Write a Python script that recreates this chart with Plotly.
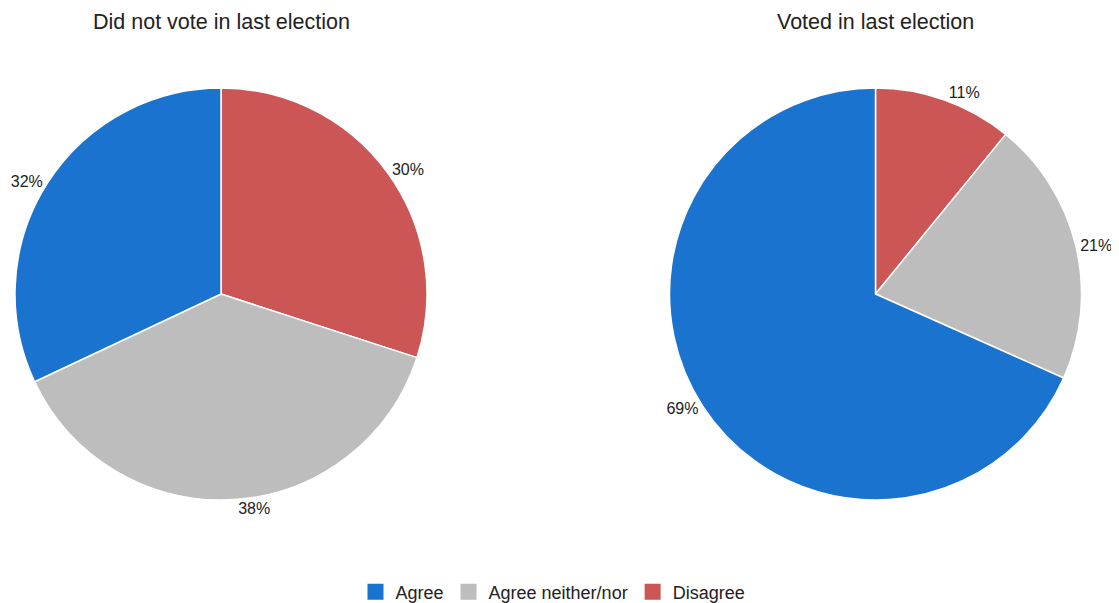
import plotly.graph_objects as go

categories = ["Agree", "Agree neither/nor", "Disagree"]
did_not_vote = [32, 38, 30]
voted = [69, 21, 11]
titles = ["Did not vote in last election", "Voted in last election"]
colors = ["#1A73CE", "#BDBDBD", "#CC5555"]

OFF = 8                      # page body margin around the figure
W, H = 1119 - OFF, 603 - OFF
font = "Liberation Sans, Arial, sans-serif"

def px(x):
    return (x - OFF) / W

def py(y):
    return 1 - (y - OFF) / H

def dom(cx, cy, r):
    return dict(x=[max(0, px(cx - r)), min(1, px(cx + r))],
                y=[max(0, py(cy + r)), min(1, py(cy - r))])

fig = go.Figure()
for vals, cx in [(did_not_vote, 221), (voted, 875.5)]:
    fig.add_trace(go.Pie(
        labels=categories[::-1], values=vals[::-1], sort=False, direction="clockwise",
        rotation=0, marker=dict(colors=colors[::-1], line=dict(color="white", width=1.5)),
        texttemplate="%{value}%", textposition="outside",
        textfont=dict(size=16, color="#222222", family=font),
        domain=dom(cx, 294, 206), showlegend=False, hoverinfo="label+percent",
    ))

for name, col in zip(categories, colors):
    fig.add_trace(go.Scatter(x=[None], y=[None], mode="markers", name=name,
                             marker=dict(symbol="square", size=22, color=col),
                             showlegend=True, hoverinfo="skip"))

annotations = [
    dict(text=titles[0], x=px(221), y=py(22), xref="paper", yref="paper",
         xanchor="center", yanchor="middle",
         showarrow=False, font=dict(size=21.5, color="#222222", family=font)),
    dict(text=titles[1], x=px(875.5), y=py(22), xref="paper", yref="paper",
         xanchor="center", yanchor="middle",
         showarrow=False, font=dict(size=21.5, color="#222222", family=font)),
]

fig.update_layout(
    width=W, height=H, margin=dict(l=0, r=0, t=0, b=0, autoexpand=False),
    paper_bgcolor="white", plot_bgcolor="white",
    annotations=annotations,
    xaxis=dict(visible=False), yaxis=dict(visible=False),
    legend=dict(orientation="h", x=px(553), xanchor="center", y=py(592), yanchor="middle",
                font=dict(size=18, color="#222222", family=font), itemwidth=30),
    font=dict(family=font),
)
fig.write_html("out.html")
